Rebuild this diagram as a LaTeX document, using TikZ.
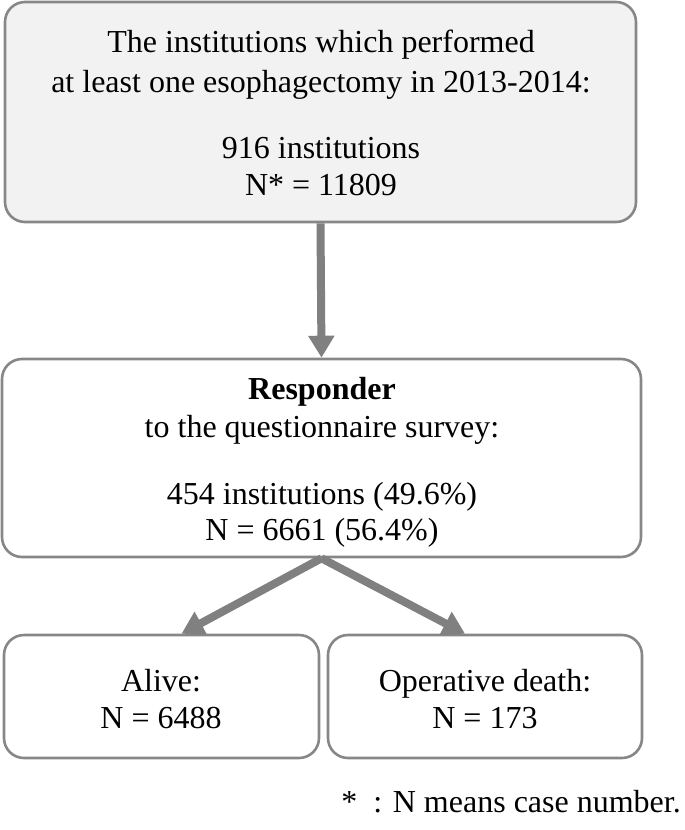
\documentclass[tikz,border=0pt]{standalone}
\usepackage{fontspec}
\setmainfont{Liberation Serif}
\usetikzlibrary{arrows.meta}
\definecolor{bordergray}{HTML}{878787}
\definecolor{arrowgray}{HTML}{808080}
\definecolor{boxfill}{HTML}{F2F2F2}
\tikzset{
  box/.style={draw=bordergray, line width=2.6pt, rounded corners=20pt, inner sep=0pt},
  txt/.style={align=center, inner sep=0pt, font=\fontsize{32}{38}\selectfont},
  flow/.style={draw=arrowgray, line width=8pt, -{Triangle[length=22pt,width=25pt]}}
}
\begin{document}
\begin{tikzpicture}[x=1pt,y=-1pt]
\useasboundingbox (0,0) rectangle (685,830);
\node[box, fill=boxfill, minimum width=631pt, minimum height=220pt] (top) at (320.5,112) {};
\node[box, fill=white, minimum width=639pt, minimum height=198pt] (mid) at (321.5,458) {};
\node[box, fill=white, minimum width=315pt, minimum height=123pt] (bl) at (161.5,696.5) {};
\node[box, fill=white, minimum width=314pt, minimum height=123pt] (br) at (485,696.5) {};
\node[txt, font=\fontsize{32}{40}\selectfont] (t1) at (321,65) {The institutions which performed\\at least one esophagectomy in 2013-2014:};
\node[txt, font=\fontsize{32}{37}\selectfont] (t2) at (321,166.5) {916 institutions\\N* = 11809};
\node[txt, font=\fontsize{32}{38}\selectfont] (m1) at (322,411) {\textbf{Responder}\\to the questionnaire survey:};
\node[txt, font=\fontsize{32}{36}\selectfont] (m2) at (322,515) {454 institutions (49.6\%)\\N = 6661 (56.4\%)};
\node[txt, font=\fontsize{32}{37}\selectfont] (b1) at (161,699.5) {Alive:\\N = 6488};
\node[txt, font=\fontsize{32}{37}\selectfont] (b2) at (485,699.5) {Operative death:\\N = 173};
\draw[flow] (top.south) -- (mid.north);
\draw[flow] (mid.south) -- ([xshift=20pt]bl.north);
\draw[flow] (mid.south) -- ([xshift=-20pt]br.north);
\node[txt, anchor=east] (note) at (681,802) {*\ \ : N means case number.};
\end{tikzpicture}
\end{document}
